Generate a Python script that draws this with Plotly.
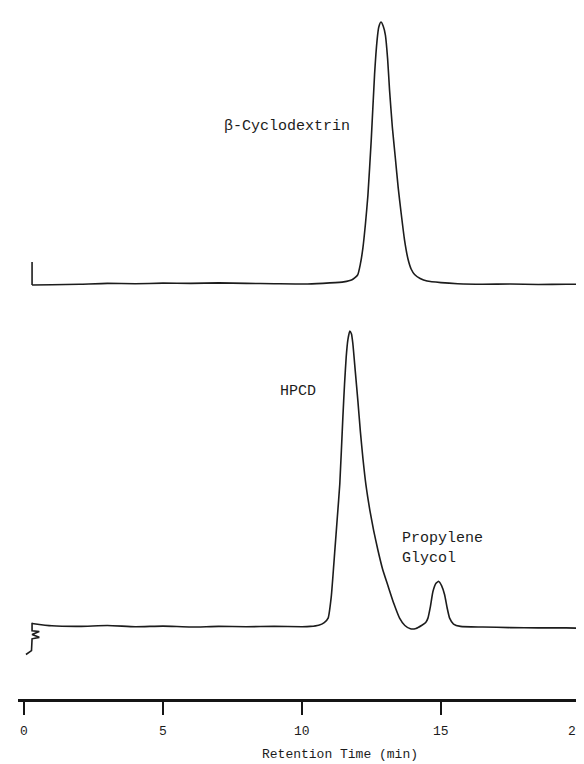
import plotly.graph_objects as go

# ---------------- data ----------------
# Top chromatogram: beta-cyclodextrin standard (signal, apex = 100)
top_time = [0.29, 1.0, 2.0, 3.0, 4.0, 5.0, 6.0, 7.0, 8.0, 9.0, 10.2, 11.0, 11.5, 11.8,
            12.0, 12.1, 12.19, 12.28, 12.37, 12.49, 12.61, 12.7, 12.76, 12.84, 12.92,
            13.0, 13.08, 13.15, 13.25, 13.36, 13.46, 13.57, 13.69, 13.81, 13.93, 14.05,
            14.25, 14.5, 15.0, 15.6, 16.5, 17.5, 18.5, 19.5, 20.0]
top_signal = [0.0, 0.1, 0.3, 0.6, 0.5, 0.7, 0.6, 0.8, 0.6, 0.5, 0.4, 0.8, 1.2, 2.0,
              3.8, 8.0, 14.0, 23.0, 34.0, 55.0, 80.0, 93.0, 98.0, 100.0, 98.5,
              95.0, 86.0, 74.0, 60.0, 48.0, 37.0, 27.0, 17.0, 10.0, 6.0, 4.0,
              2.5, 1.5, 0.9, 0.5, 0.3, 0.4, 0.2, 0.3, 0.3]
top_marker_time = [0.29, 0.29]
top_marker_signal = [8.7, 0.0]

# Bottom chromatogram: HPCD sample (signal, HPCD apex = 100)
bot_time = [0.29, 1.0, 2.0, 3.0, 4.0, 5.0, 6.0, 7.0, 8.0, 9.0, 10.0, 10.3, 10.6, 10.8,
            10.94, 11.05, 11.18, 11.27, 11.36, 11.47, 11.53, 11.59, 11.65, 11.72, 11.78,
            11.83, 11.92, 12.01, 12.1, 12.19, 12.3, 12.44, 12.58, 12.73, 12.9, 13.09,
            13.3, 13.51, 13.7, 13.9, 14.1, 14.3, 14.45, 14.53, 14.62, 14.71, 14.82,
            14.92, 15.02, 15.13, 15.22, 15.31, 15.45, 15.7, 16.5, 17.5, 18.5, 19.5, 20.0]
bot_signal = [1.2, 0.4, 0.2, 0.5, 0.1, 0.3, 0.0, 0.2, 0.1, 0.2, 0.1, 0.2, 0.6, 1.5,
              3.0, 10.0, 25.7, 37.0, 48.4, 70.9, 82.0, 91.2, 97.0, 100.0, 99.0,
              95.7, 86.0, 76.4, 66.0, 57.1, 48.0, 39.5, 32.5, 26.0, 19.5, 14.0,
              8.0, 3.0, 0.5, -0.6, -0.5, 0.5, 1.5, 3.0, 7.0, 12.0, 14.8,
              15.4, 14.0, 10.9, 6.5, 3.0, 1.0, 0.2, 0.0, -0.2, -0.3, -0.3, -0.4]
bot_marker_time = [0.07, 0.27, 0.29, 0.55, 0.29, 0.55, 0.29, 0.29]
bot_marker_signal = [-9.3, -8.0, -4.0, -3.5, -2.5, -1.5, -1.3, 1.4]

x_ticks = [0, 5, 10, 15, 20]
x_tick_labels = ["0", "5", "10", "15", "20"]

# ---------------- layout geometry ----------------
W, H = 584, 764
PLOT_BOTTOM = 692
X0_PX, X20_PX = 16, 572
PX_PER_MIN = (X20_PX - X0_PX) / 20.0
L_PX, R_PX = 10, 573
x_range = [(L_PX - X0_PX) / PX_PER_MIN, (R_PX - X0_PX) / PX_PER_MIN]


def y_range(domain, base_px, apex_px):
    ppu = (base_px - apex_px) / 100.0
    dom_bottom_px = PLOT_BOTTOM * (1 - domain[0])
    dom_top_px = PLOT_BOTTOM * (1 - domain[1])
    return [(base_px - dom_bottom_px) / ppu, (base_px - dom_top_px) / ppu]


top_dom = [0.58, 1.0]
bot_dom = [0.0, 0.555]
top_rng = y_range(top_dom, 277, 14)
bot_rng = y_range(bot_dom, 619, 323)


def paper_x(px):
    return (px - L_PX) / (R_PX - L_PX)


def paper_y(py):
    return (PLOT_BOTTOM - py) / PLOT_BOTTOM


LINE = dict(color="#1c1c1c", width=1.6)

fig = go.Figure()
fig.add_trace(go.Scatter(x=top_time, y=top_signal, mode="lines", yaxis="y2",
                         line=dict(shape="spline", smoothing=0.5, **LINE), showlegend=False))
fig.add_trace(go.Scatter(x=top_marker_time, y=top_marker_signal, mode="lines", yaxis="y2",
                         line=LINE, showlegend=False))
fig.add_trace(go.Scatter(x=bot_time, y=bot_signal, mode="lines", yaxis="y",
                         line=dict(shape="spline", smoothing=0.5, **LINE), showlegend=False))
fig.add_trace(go.Scatter(x=bot_marker_time, y=bot_marker_signal, mode="lines", yaxis="y",
                         line=LINE, showlegend=False))

FONT = "Liberation Mono, Courier New, monospace"
TXT = "#1c1c1c"
ann = [
    dict(text="β-Cyclodextrin", x=paper_x(279), y=paper_y(118), size=15, xanchor="center"),
    dict(text="HPCD", x=paper_x(290), y=paper_y(383), size=15, xanchor="center"),
    dict(text="Propylene<br>Glycol", x=paper_x(392), y=paper_y(540), size=15, xanchor="left"),
    dict(text="Retention Time (min)", x=paper_x(332), y=paper_y(746), size=13, xanchor="center"),
]
annotations = [dict(text=a["text"], x=a["x"], y=a["y"], xref="paper", yref="paper",
                    xanchor=a["xanchor"], yanchor="middle", align="left", showarrow=False,
                    font=dict(family=FONT, size=a["size"], color=TXT))
               for a in ann]

# tick labels (the last one kept inside the page edge)
for v, lab in zip(x_ticks, x_tick_labels):
    last = v == x_ticks[-1]
    annotations.append(dict(text=lab, x=v, xref="x", y=paper_y(723), yref="paper",
                            xanchor="right" if last else "center", xshift=6 if last else 0,
                            yanchor="middle", showarrow=False,
                            font=dict(family=FONT, size=13, color=TXT)))

fig.update_layout(
    width=W, height=H,
    margin=dict(l=L_PX, r=W - R_PX, t=0, b=H - PLOT_BOTTOM),
    paper_bgcolor="white", plot_bgcolor="white",
    xaxis=dict(range=x_range, anchor="free", position=0, showgrid=False, zeroline=False,
               showline=True, linecolor="#151515", linewidth=2.5,
               ticks="outside", ticklen=13, tickwidth=2, tickcolor="#151515",
               tickvals=x_ticks, showticklabels=False),
    yaxis=dict(domain=bot_dom, range=bot_rng, visible=False, fixedrange=True),
    yaxis2=dict(domain=top_dom, range=top_rng, visible=False, fixedrange=True),
    annotations=annotations,
)

fig.write_html("out.html")
